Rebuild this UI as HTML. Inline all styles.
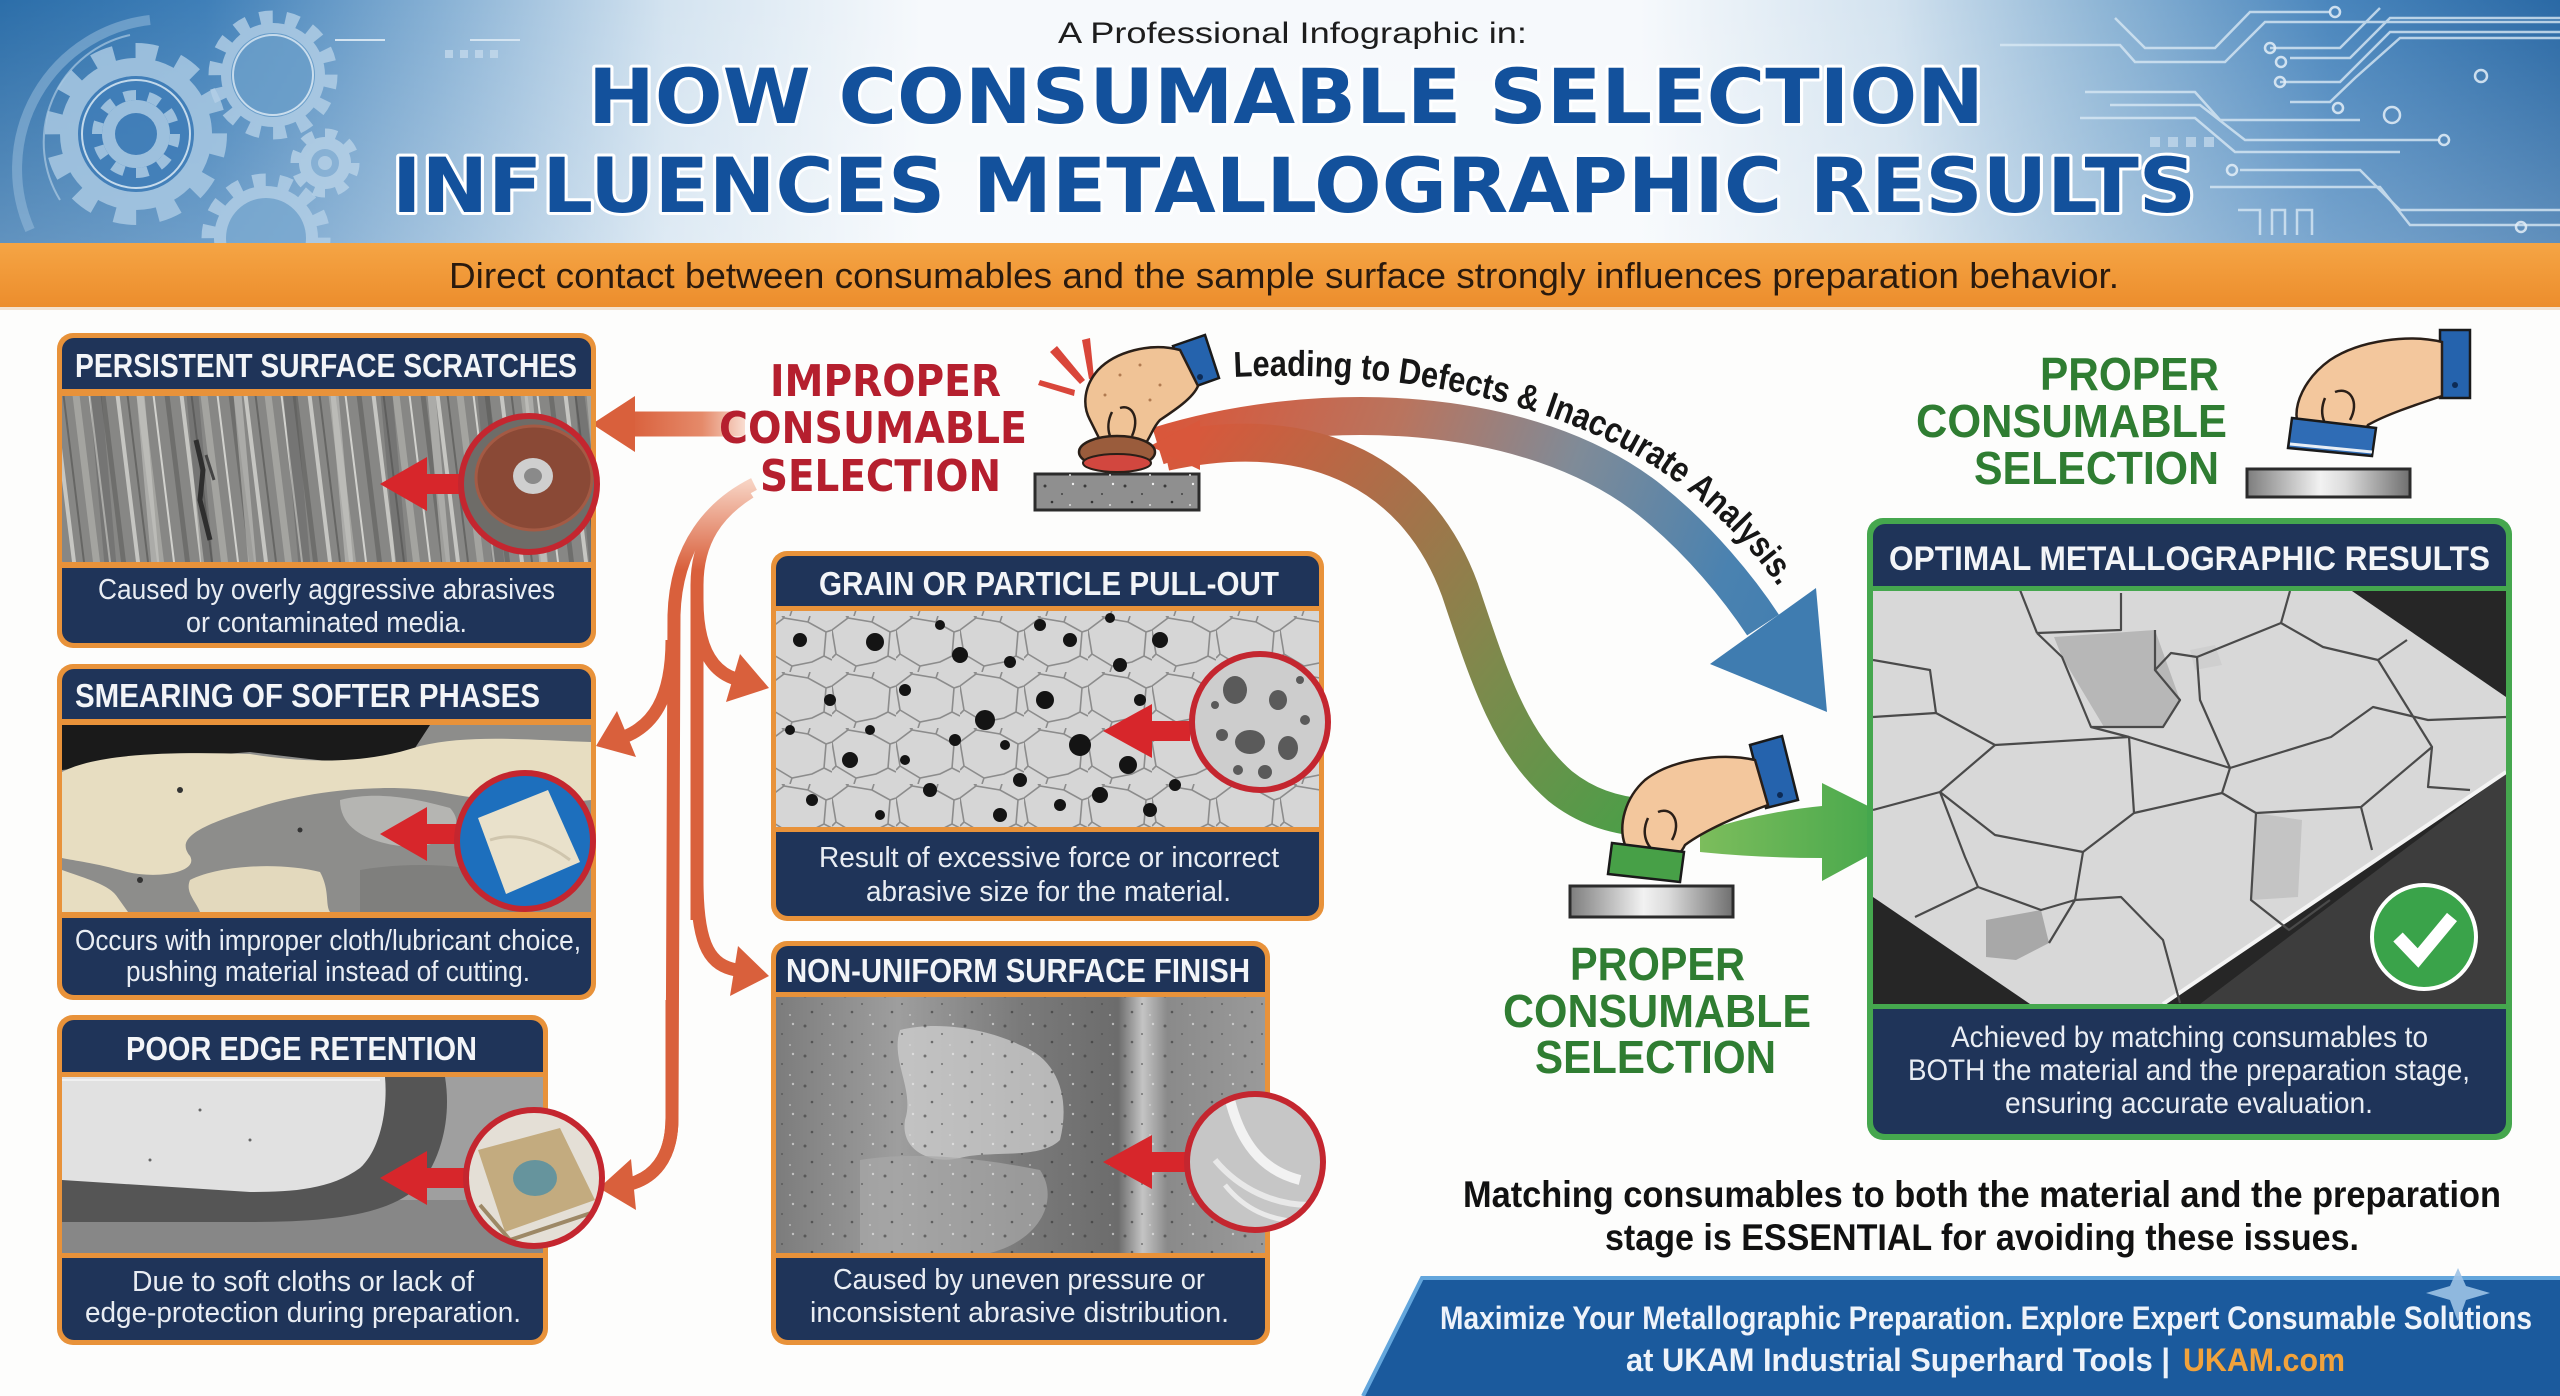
<!DOCTYPE html>
<html><head><meta charset="utf-8">
<style>
html,body{margin:0;padding:0;background:#fdfdfc;}
svg{display:block}
.c{font-family:"Liberation Sans Narrow","Liberation Sans",sans-serif;}
.h{font-family:"DejaVu Sans","Liberation Sans",sans-serif;font-weight:bold;}
</style></head><body>
<svg xmlns="http://www.w3.org/2000/svg" width="2560" height="1396" viewBox="0 0 2560 1396">
<defs>
  <linearGradient id="hdr" x1="0" y1="0" x2="1" y2="0">
    <stop offset="0" stop-color="#2c6ea9"/><stop offset="0.08" stop-color="#3f7fb8"/>
    <stop offset="0.17" stop-color="#86b0d4"/><stop offset="0.26" stop-color="#d3e3f0"/>
    <stop offset="0.36" stop-color="#f6f9fc"/><stop offset="0.64" stop-color="#f6f9fc"/>
    <stop offset="0.74" stop-color="#d2e2ef"/><stop offset="0.82" stop-color="#8fb6d6"/>
    <stop offset="0.91" stop-color="#4a86bd"/><stop offset="1" stop-color="#2a69a5"/>
  </linearGradient>
  <linearGradient id="hdrv" x1="0" y1="0" x2="0" y2="1">
    <stop offset="0" stop-color="#ffffff" stop-opacity="0"/><stop offset="1" stop-color="#ffffff" stop-opacity="0.25"/>
  </linearGradient>
  <linearGradient id="org" x1="0" y1="0" x2="0" y2="1">
    <stop offset="0" stop-color="#f5a545"/><stop offset="1" stop-color="#ec8d2c"/>
  </linearGradient>
  <linearGradient id="silver" x1="0" y1="0" x2="1" y2="0">
    <stop offset="0" stop-color="#7d7d7d"/><stop offset="0.45" stop-color="#f2f2f2"/><stop offset="0.6" stop-color="#dcdcdc"/><stop offset="1" stop-color="#6f6f6f"/>
  </linearGradient>
  <linearGradient id="upArr" gradientUnits="userSpaceOnUse" x1="1160" y1="440" x2="1830" y2="700">
    <stop offset="0" stop-color="#d9573b"/><stop offset="0.3" stop-color="#b9745e"/>
    <stop offset="0.55" stop-color="#7f8b98"/><stop offset="0.8" stop-color="#4a82b0"/><stop offset="1" stop-color="#3d7bb0"/>
  </linearGradient>
  <linearGradient id="loArr" gradientUnits="userSpaceOnUse" x1="1170" y1="450" x2="1640" y2="820">
    <stop offset="0" stop-color="#d9573b"/><stop offset="0.35" stop-color="#a8704a"/>
    <stop offset="0.65" stop-color="#7d8a4c"/><stop offset="1" stop-color="#4c9e48"/>
  </linearGradient>
  <linearGradient id="grnArr" gradientUnits="userSpaceOnUse" x1="1700" y1="0" x2="1916" y2="0">
    <stop offset="0" stop-color="#7cbd5c"/><stop offset="1" stop-color="#3ea449"/>
  </linearGradient>
  <linearGradient id="c1arr" gradientUnits="userSpaceOnUse" x1="630" y1="0" x2="750" y2="0">
    <stop offset="0" stop-color="#d9603c"/><stop offset="0.6" stop-color="#e58a6a"/><stop offset="1" stop-color="#fbe6dc"/>
  </linearGradient>
  <linearGradient id="trunk" gradientUnits="userSpaceOnUse" x1="0" y1="482" x2="0" y2="570">
    <stop offset="0" stop-color="#f7d2c2"/><stop offset="1" stop-color="#d9603c"/>
  </linearGradient>
  <linearGradient id="c5bg" x1="0" y1="0" x2="1" y2="0">
    <stop offset="0" stop-color="#7c7c7c"/><stop offset="0.25" stop-color="#9e9e9e"/>
    <stop offset="0.5" stop-color="#7a7a7a"/><stop offset="0.7" stop-color="#6c6c6c"/>
    <stop offset="0.75" stop-color="#c4c4c4"/><stop offset="0.8" stop-color="#8a8a8a"/><stop offset="1" stop-color="#9a9a9a"/>
  </linearGradient>
  <pattern id="scr" width="64" height="170" patternUnits="userSpaceOnUse" patternTransform="skewX(7)">
    <rect width="64" height="170" fill="#878785"/>
    <rect x="3" width="4" height="170" fill="#c6c6c2"/>
    <rect x="14" width="2" height="170" fill="#666664"/>
    <rect x="24" width="7" height="170" fill="#a4a4a0"/>
    <rect x="40" width="2" height="170" fill="#d2d2ce"/>
    <rect x="52" width="5" height="170" fill="#6e6e6c"/>
  </pattern>
  <pattern id="scr2" width="97" height="170" patternUnits="userSpaceOnUse" patternTransform="skewX(5)">
    <rect x="5" width="8" height="170" fill="#d8d8d4" opacity="0.45"/>
    <rect x="55" width="12" height="170" fill="#4e4e4c" opacity="0.3"/>
  </pattern>
  <pattern id="cells" width="64" height="56" patternUnits="userSpaceOnUse">
    <rect width="64" height="56" fill="#d6d6d6"/>
    <path d="M0,14 L16,2 L40,6 L58,16 L64,14 M16,2 L16,0 M58,16 L56,40 L64,44 M0,14 L4,38 L0,42 M4,38 L24,50 L44,46 L56,40 M24,50 L22,56 M40,6 L42,0 M16,2 L14,0" fill="none" stroke="#8c8c8c" stroke-width="1.6"/>
  </pattern>
  <pattern id="spk" width="40" height="30" patternUnits="userSpaceOnUse">
    <circle cx="5" cy="6" r="1.5" fill="#3a3a3a"/><circle cx="22" cy="14" r="1" fill="#444"/>
    <circle cx="33" cy="4" r="1.2" fill="#eee"/><circle cx="12" cy="22" r="1.3" fill="#333"/>
    <circle cx="30" cy="25" r="1" fill="#ddd"/>
  </pattern>
  <clipPath id="hclip"><rect x="0" y="0" width="2560" height="243"/></clipPath>
  <clipPath id="i1"><rect x="62" y="396" width="529" height="166"/></clipPath>
  <clipPath id="i2"><rect x="62" y="725" width="529" height="187"/></clipPath>
  <clipPath id="i3"><rect x="62" y="1077" width="481" height="176"/></clipPath>
  <clipPath id="i4"><rect x="776" y="611" width="543" height="216"/></clipPath>
  <clipPath id="i5"><rect x="776" y="997" width="489" height="256"/></clipPath>
  <clipPath id="i6"><rect x="1873" y="591" width="633" height="413"/></clipPath>
  <clipPath id="cc1"><circle cx="529" cy="484" r="68"/></clipPath>
  <clipPath id="cc2"><circle cx="525" cy="841" r="68"/></clipPath>
  <clipPath id="cc3"><circle cx="534" cy="1178" r="68"/></clipPath>
  <clipPath id="cc4"><circle cx="1260" cy="722" r="68"/></clipPath>
  <clipPath id="cc5"><circle cx="1255" cy="1162" r="68"/></clipPath>
  <path id="lp" d="M1234,377 C1420,368 1585,410 1683,487 C1722,518 1756,553 1782,592"/>
</defs>

<rect width="2560" height="1396" fill="#fdfdfc"/>

<!-- HEADER -->
<g clip-path="url(#hclip)">
  <rect x="0" y="0" width="2560" height="243" fill="url(#hdr)"/>
  <rect x="0" y="0" width="2560" height="243" fill="url(#hdrv)"/>
  <path d="M30,230 A150,150 0 0 1 150,20" fill="none" stroke="#9cc0de" stroke-width="10" opacity="0.5"/>
  <path d="M60,200 A110,110 0 0 1 130,35" fill="none" stroke="#bcd6ea" stroke-width="2" opacity="0.6"/>
  <g opacity="0.85">
    <circle cx="136" cy="134" r="76" fill="#a9c9e3"/>
    <circle cx="136" cy="134" r="83" fill="none" stroke="#a9c9e3" stroke-width="16" pathLength="100" stroke-dasharray="4.1667 4.1667"/>
    <circle cx="136" cy="134" r="58" fill="#3f7db8"/>
    <circle cx="136" cy="134" r="54" fill="none" stroke="#d8e8f4" stroke-width="2"/>
    <circle cx="136" cy="134" r="34" fill="#a9c9e3"/>
    <circle cx="136" cy="134" r="39" fill="none" stroke="#a9c9e3" stroke-width="10" pathLength="100" stroke-dasharray="5 5"/>
    <circle cx="136" cy="134" r="21" fill="#3f7db8"/>
  </g>
  <g opacity="0.8">
    <circle cx="273" cy="75" r="52" fill="#b4d0e7"/>
    <circle cx="273" cy="75" r="58" fill="none" stroke="#b4d0e7" stroke-width="13" pathLength="100" stroke-dasharray="3.57 3.57"/>
    <circle cx="273" cy="75" r="42" fill="#6b9fca"/>
    <circle cx="273" cy="75" r="40" fill="none" stroke="#e2eef7" stroke-width="2"/>
  </g>
  <g opacity="0.8">
    <circle cx="325" cy="163" r="26" fill="#b9d3e8"/>
    <circle cx="325" cy="163" r="30" fill="none" stroke="#b9d3e8" stroke-width="9" pathLength="100" stroke-dasharray="6.25 6.25"/>
    <circle cx="325" cy="163" r="14" fill="#8ab3d6"/>
    <circle cx="325" cy="163" r="7" fill="#b9d3e8"/>
  </g>
  <g opacity="0.8">
    <circle cx="266" cy="238" r="52" fill="#b4d0e7"/>
    <circle cx="266" cy="238" r="58" fill="none" stroke="#b4d0e7" stroke-width="13" pathLength="100" stroke-dasharray="3.57 3.57"/>
    <circle cx="266" cy="238" r="40" fill="#7aa9d0"/>
  </g>
  <path d="M335,40 L385,40 M470,40 L520,40" stroke="#d4e4f1" stroke-width="2"/>
  <g fill="none" stroke="#d8e8f4" stroke-width="2.5" opacity="0.8">
    <path d="M2115,18 L2145,48 L2215,48 L2250,12 L2330,12"/>
    <path d="M2000,45 L2120,45 L2135,62 L2225,62 L2265,22 L2560,22"/>
    <path d="M2270,48 L2340,48 L2380,8"/>
    <path d="M2290,58 L2350,58 L2390,18 L2560,18"/>
    <path d="M2280,82 L2340,82 L2390,32 L2560,32"/>
    <path d="M2290,102 L2330,102 L2355,78 L2400,38 L2560,38"/>
    <path d="M2085,92 L2195,92 L2220,120 L2360,120"/>
    <path d="M2110,105 L2200,105 L2245,140 L2440,140"/>
    <path d="M2080,118 L2195,118 L2235,152 L2400,152"/>
    <path d="M2240,170 L2360,170 L2400,210 L2560,210"/>
    <path d="M2210,187 L2380,187 L2410,225 L2560,225"/>
    <path d="M2238,210 L2260,210 L2260,235 M2272,235 L2272,210 L2285,210 L2285,235 M2297,235 L2297,210 L2312,210 L2312,235"/>
  </g>
  <g fill="none" stroke="#e4eff8" stroke-width="2.5" opacity="0.85">
    <circle cx="2335" cy="12" r="5"/><circle cx="2270" cy="48" r="5"/><circle cx="2280" cy="82" r="5"/>
    <circle cx="2281" cy="62" r="5"/><circle cx="2444" cy="140" r="5"/><circle cx="2232" cy="170" r="5"/>
    <circle cx="2392" cy="115" r="8"/><circle cx="2338" cy="108" r="5"/><circle cx="2481" cy="76" r="6"/>
    <circle cx="2521" cy="227" r="5"/>
  </g>
  <g fill="#c9ddee" opacity="0.7">
    <rect x="2150" y="137" width="10" height="10"/><rect x="2168" y="137" width="10" height="10"/><rect x="2186" y="137" width="10" height="10"/><rect x="2204" y="137" width="10" height="10"/>
    <rect x="445" y="50" width="8" height="8"/><rect x="460" y="50" width="8" height="8"/><rect x="475" y="50" width="8" height="8"/><rect x="490" y="50" width="8" height="8"/>
  </g>
</g>

<text class="c" x="1058" y="43" font-size="30" textLength="469" lengthAdjust="spacingAndGlyphs" fill="#1d1d1d">A Professional Infographic in:</text>
<text class="h" x="588" y="123" font-size="76" textLength="1396" lengthAdjust="spacingAndGlyphs" fill="#13519c" stroke="#ffffff" stroke-width="6" stroke-linejoin="round" paint-order="stroke">HOW CONSUMABLE SELECTION</text>
<text class="h" x="392" y="212" font-size="76" textLength="1804" lengthAdjust="spacingAndGlyphs" fill="#13519c" stroke="#ffffff" stroke-width="6" stroke-linejoin="round" paint-order="stroke">INFLUENCES METALLOGRAPHIC RESULTS</text>

<rect x="0" y="243" width="2560" height="64" fill="url(#org)"/>
<rect x="0" y="307" width="2560" height="3" fill="#f3e2cf"/>
<text class="c" x="449" y="288" font-size="36" textLength="1670" lengthAdjust="spacingAndGlyphs" fill="#2a1a0e">Direct contact between consumables and the sample surface strongly influences preparation behavior.</text>

<!-- ORANGE TREE ARROWS -->
<path d="M745,424 L630,424" stroke="url(#c1arr)" stroke-width="25" fill="none"/>
<polygon points="592,424 635,396 635,452" fill="#d9603c"/>
<path d="M754,484 C712,505 676,545 674,615 L672,1118 C672,1160 652,1178 630,1184" fill="none" stroke="url(#trunk)" stroke-width="13"/>
<path d="M672,1000 L672,1118 C672,1160 652,1178 630,1184" fill="none" stroke="#d9603c" stroke-width="13"/>
<polygon points="599,1188 631,1159 636,1210" fill="#d9603c"/>
<path d="M672,640 C672,700 652,726 624,737" fill="none" stroke="#d9603c" stroke-width="13"/>
<polygon points="596,746 617,711 636,757" fill="#d9603c"/>
<path d="M750,492 C718,512 697,540 697,585 L697,920" fill="none" stroke="url(#trunk)" stroke-width="13"/>
<path d="M697,600 C697,650 713,672 736,679" fill="none" stroke="#d9603c" stroke-width="13"/>
<polygon points="769,688 740,654 726,702" fill="#d9603c"/>
<path d="M697,880 C697,950 712,965 736,970" fill="none" stroke="#d9603c" stroke-width="13"/>
<polygon points="769,976 738,946 730,996" fill="#d9603c"/>

<!-- CARD 1 -->
<rect x="57" y="333" width="539" height="315" rx="16" fill="#e8923a"/>
<rect x="62" y="338" width="529" height="305" rx="12" fill="#1f3459"/>
<rect x="62" y="389" width="529" height="7" fill="#e8923a"/>
<g clip-path="url(#i1)">
  <rect x="40" y="396" width="580" height="166" fill="url(#scr)"/>
  <rect x="40" y="396" width="580" height="166" fill="url(#scr2)"/>
  <path d="M196,440 L203,470 L200,500 L210,540" stroke="#2e2e2e" stroke-width="5" fill="none"/>
  <path d="M206,455 L214,480" stroke="#444" stroke-width="3"/>
</g>
<rect x="62" y="562" width="529" height="6" fill="#e8923a"/>
<text class="c" x="75" y="377" font-size="33" font-weight="bold" textLength="502" lengthAdjust="spacingAndGlyphs" fill="#f3f5f8">PERSISTENT SURFACE SCRATCHES</text>
<text class="c" x="98" y="599" font-size="29" textLength="457" lengthAdjust="spacingAndGlyphs" fill="#e9edf3">Caused by overly aggressive abrasives</text>
<text class="c" x="186" y="632" font-size="29" textLength="281" lengthAdjust="spacingAndGlyphs" fill="#e9edf3">or contaminated media.</text>
<polygon points="380,484 427,457 427,474 466,474 466,494 427,494 427,511" fill="#d7262b"/>
<g clip-path="url(#cc1)">
  <rect x="455" y="410" width="150" height="150" fill="#6e6c68"/>
  <ellipse cx="534" cy="478" rx="58" ry="52" fill="#8a4936"/>
  <ellipse cx="534" cy="478" rx="58" ry="52" fill="none" stroke="#a45a44" stroke-width="3"/>
  <ellipse cx="533" cy="476" rx="20" ry="18" fill="#cfcfcf"/>
  <ellipse cx="533" cy="476" rx="9" ry="8" fill="#8a8a8a"/>
</g>
<circle cx="529" cy="484" r="68" fill="none" stroke="#c4262f" stroke-width="6"/>

<!-- CARD 2 -->
<rect x="57" y="664" width="539" height="336" rx="16" fill="#e8923a"/>
<rect x="62" y="669" width="529" height="326" rx="12" fill="#1f3459"/>
<rect x="62" y="719" width="529" height="6" fill="#e8923a"/>
<g clip-path="url(#i2)">
  <rect x="62" y="725" width="529" height="187" fill="#8d8d8b"/>
  <polygon points="62,725 430,725 415,748 360,765 250,752 150,760 62,770" fill="#1a1a1a"/>
  <path d="M62,772 C100,752 180,752 250,754 C300,762 360,766 420,746 C470,734 530,740 591,742 L591,800 C540,806 480,800 440,792 C380,782 300,792 250,810 C200,826 175,838 190,856 C200,874 150,880 120,870 C90,862 70,860 62,858 Z" fill="#e7ddc1"/>
  <path d="M62,870 C90,880 110,885 118,898 L128,912 L62,912 Z" fill="#e7ddc1"/>
  <path d="M190,880 C220,865 280,862 320,872 C330,890 325,905 330,912 L200,912 C195,900 185,892 190,880 Z" fill="#e3d9bd"/>
  <path d="M340,800 C380,790 420,800 450,808 C470,830 440,850 400,846 C370,842 340,830 340,800 Z" fill="#b5b5b2"/>
  <path d="M360,870 C420,860 480,866 520,880 L520,912 L360,912 Z" fill="#7f7f7d"/>
  <circle cx="180" cy="790" r="3" fill="#333"/><circle cx="300" cy="830" r="2.5" fill="#333"/><circle cx="140" cy="880" r="3" fill="#333"/>
</g>
<rect x="62" y="912" width="529" height="6" fill="#e8923a"/>
<text class="c" x="75" y="707" font-size="33" font-weight="bold" textLength="465" lengthAdjust="spacingAndGlyphs" fill="#f3f5f8">SMEARING OF SOFTER PHASES</text>
<text class="c" x="75" y="950" font-size="29" textLength="506" lengthAdjust="spacingAndGlyphs" fill="#e9edf3">Occurs with improper cloth/lubricant choice,</text>
<text class="c" x="126" y="981" font-size="29" textLength="404" lengthAdjust="spacingAndGlyphs" fill="#e9edf3">pushing material instead of cutting.</text>
<polygon points="380,834 427,807 427,824 466,824 466,844 427,844 427,861" fill="#d7262b"/>
<g clip-path="url(#cc2)">
  <rect x="450" y="770" width="150" height="150" fill="#1d6fbd"/>
  <polygon points="478,818 548,790 580,862 506,894" fill="#e9e1cb"/>
  <path d="M490,840 C520,830 550,845 570,860" stroke="#cfc5ad" stroke-width="3" fill="none"/>
</g>
<circle cx="525" cy="841" r="68" fill="none" stroke="#c4262f" stroke-width="6"/>

<!-- CARD 3 -->
<rect x="57" y="1015" width="491" height="330" rx="16" fill="#e8923a"/>
<rect x="62" y="1020" width="481" height="320" rx="12" fill="#1f3459"/>
<rect x="62" y="1072" width="481" height="5" fill="#e8923a"/>
<g clip-path="url(#i3)">
  <rect x="62" y="1077" width="481" height="176" fill="#9f9f9f"/>
  <rect x="62" y="1200" width="481" height="53" fill="#878787"/>
  <path d="M62,1077 L445,1077 C452,1120 440,1160 420,1185 C390,1215 330,1222 250,1222 L62,1222 Z" fill="#555555"/>
  <path d="M62,1077 L385,1077 C388,1110 380,1150 360,1168 C330,1190 290,1192 250,1192 L62,1180 Z" fill="#e1e1e1"/>
  <path d="M62,1080 L380,1080" stroke="#f0f0f0" stroke-width="2"/>
  <circle cx="200" cy="1110" r="1.5" fill="#666"/><circle cx="250" cy="1140" r="1.5" fill="#666"/><circle cx="150" cy="1160" r="1.5" fill="#666"/>
</g>
<rect x="62" y="1253" width="481" height="5" fill="#e8923a"/>
<text class="c" x="126" y="1060" font-size="33" font-weight="bold" textLength="351" lengthAdjust="spacingAndGlyphs" fill="#f3f5f8">POOR EDGE RETENTION</text>
<text class="c" x="132" y="1291" font-size="29" textLength="342" lengthAdjust="spacingAndGlyphs" fill="#e9edf3">Due to soft cloths or lack of</text>
<text class="c" x="85" y="1322" font-size="29" textLength="436" lengthAdjust="spacingAndGlyphs" fill="#e9edf3">edge-protection during preparation.</text>
<polygon points="380,1178 427,1151 427,1168 466,1168 466,1188 427,1188 427,1205" fill="#d7262b"/>
<g clip-path="url(#cc3)">
  <rect x="460" y="1105" width="150" height="150" fill="#e4dfd6"/>
  <polygon points="478,1150 560,1128 595,1200 505,1232" fill="#c3ab7f"/>
  <ellipse cx="535" cy="1178" rx="22" ry="18" fill="#4f8ea5" opacity="0.8"/>
  <path d="M480,1205 L510,1240 L600,1210" stroke="#9d8866" stroke-width="4" fill="none"/>
</g>
<circle cx="534" cy="1178" r="68" fill="none" stroke="#c4262f" stroke-width="6"/>

<!-- CARD 4 -->
<rect x="771" y="551" width="553" height="370" rx="16" fill="#e8923a"/>
<rect x="776" y="556" width="543" height="360" rx="12" fill="#1f3459"/>
<rect x="776" y="606" width="543" height="5" fill="#e8923a"/>
<g clip-path="url(#i4)">
  <rect x="776" y="611" width="543" height="216" fill="url(#cells)"/>
  <g fill="#141414">
    <circle cx="800" cy="640" r="7"/><circle cx="830" cy="700" r="6"/><circle cx="850" cy="760" r="8"/>
    <circle cx="875" cy="642" r="9"/><circle cx="905" cy="690" r="6"/><circle cx="930" cy="790" r="7"/>
    <circle cx="960" cy="655" r="8"/><circle cx="985" cy="720" r="10"/><circle cx="1010" cy="662" r="6"/>
    <circle cx="1020" cy="780" r="7"/><circle cx="1045" cy="700" r="9"/><circle cx="1070" cy="640" r="7"/>
    <circle cx="1080" cy="745" r="11"/><circle cx="1100" cy="795" r="8"/><circle cx="1120" cy="665" r="7"/>
    <circle cx="1140" cy="700" r="6"/><circle cx="1160" cy="640" r="8"/><circle cx="1150" cy="810" r="7"/>
    <circle cx="812" cy="800" r="6"/><circle cx="880" cy="815" r="5"/><circle cx="955" cy="740" r="6"/>
    <circle cx="1000" cy="815" r="7"/><circle cx="1060" cy="805" r="6"/><circle cx="1110" cy="618" r="5"/>
    <circle cx="790" cy="730" r="5"/><circle cx="940" cy="625" r="5"/><circle cx="1040" cy="625" r="6"/>
    <circle cx="1128" cy="765" r="9"/><circle cx="1175" cy="785" r="6"/><circle cx="870" cy="730" r="5"/>
    <circle cx="905" cy="760" r="5"/><circle cx="1005" cy="745" r="5"/>
  </g>
</g>
<rect x="776" y="827" width="543" height="5" fill="#e8923a"/>
<text class="c" x="819" y="595" font-size="33" font-weight="bold" textLength="460" lengthAdjust="spacingAndGlyphs" fill="#f3f5f8">GRAIN OR PARTICLE PULL-OUT</text>
<text class="c" x="819" y="867" font-size="29" textLength="460" lengthAdjust="spacingAndGlyphs" fill="#e9edf3">Result of excessive force or incorrect</text>
<text class="c" x="866" y="901" font-size="29" textLength="365" lengthAdjust="spacingAndGlyphs" fill="#e9edf3">abrasive size for the material.</text>
<polygon points="1103,731 1152,704 1152,721 1190,721 1190,741 1152,741 1152,758" fill="#d7262b"/>
<g clip-path="url(#cc4)">
  <rect x="1185" y="650" width="150" height="150" fill="#cdcdcd"/>
  <g fill="#5a5a5a">
    <ellipse cx="1235" cy="690" rx="12" ry="14"/><ellipse cx="1278" cy="700" rx="9" ry="10"/>
    <ellipse cx="1250" cy="742" rx="15" ry="12"/><ellipse cx="1288" cy="748" rx="10" ry="12"/>
    <circle cx="1222" cy="735" r="6"/><circle cx="1305" cy="720" r="5"/><circle cx="1265" cy="772" r="7"/>
    <circle cx="1238" cy="770" r="5"/><circle cx="1300" cy="680" r="4"/><circle cx="1215" cy="705" r="4"/>
  </g>
</g>
<circle cx="1260" cy="722" r="68" fill="none" stroke="#c4262f" stroke-width="6"/>

<!-- CARD 5 -->
<rect x="771" y="941" width="499" height="404" rx="16" fill="#e8923a"/>
<rect x="776" y="946" width="489" height="394" rx="12" fill="#1f3459"/>
<rect x="776" y="992" width="489" height="5" fill="#e8923a"/>
<g clip-path="url(#i5)">
  <rect x="776" y="997" width="489" height="256" fill="url(#c5bg)"/>
  <path d="M900,1030 C940,1020 990,1030 1020,1045 C1060,1060 1070,1100 1060,1140 C1040,1160 990,1150 960,1158 C930,1165 900,1150 905,1120 C915,1090 890,1060 900,1030 Z" fill="#cfcfcf" opacity="0.75"/>
  <path d="M860,1160 C920,1150 990,1160 1040,1170 C1060,1200 1040,1240 990,1253 L860,1253 Z" fill="#a8a8a8" opacity="0.7"/>
  <rect x="776" y="997" width="489" height="256" fill="url(#spk)" opacity="0.6"/>
</g>
<rect x="776" y="1253" width="489" height="5" fill="#e8923a"/>
<text class="c" x="786" y="982" font-size="33" font-weight="bold" textLength="464" lengthAdjust="spacingAndGlyphs" fill="#f3f5f8">NON-UNIFORM SURFACE FINISH</text>
<text class="c" x="833" y="1289" font-size="29" textLength="372" lengthAdjust="spacingAndGlyphs" fill="#e9edf3">Caused by uneven pressure or</text>
<text class="c" x="810" y="1322" font-size="29" textLength="419" lengthAdjust="spacingAndGlyphs" fill="#e9edf3">inconsistent abrasive distribution.</text>
<polygon points="1103,1162 1152,1135 1152,1152 1190,1152 1190,1172 1152,1172 1152,1189" fill="#d7262b"/>
<g clip-path="url(#cc5)">
  <rect x="1180" y="1090" width="150" height="150" fill="#c6c6c6"/>
  <path d="M1230,1100 C1240,1140 1260,1170 1300,1180" stroke="#f2f2f2" stroke-width="10" fill="none"/>
  <path d="M1215,1160 C1240,1190 1275,1205 1310,1205" stroke="#e8e8e8" stroke-width="6" fill="none"/>
  <path d="M1225,1185 C1245,1210 1270,1220 1300,1222" stroke="#eaeaea" stroke-width="5" fill="none"/>
</g>
<circle cx="1255" cy="1162" r="68" fill="none" stroke="#c4262f" stroke-width="6"/>

<!-- IMPROPER label and hand -->
<text class="h" x="770" y="396" font-size="44" textLength="231" lengthAdjust="spacingAndGlyphs" fill="#b51f2e">IMPROPER</text>
<text class="h" x="719" y="443" font-size="44" textLength="308" lengthAdjust="spacingAndGlyphs" fill="#b51f2e">CONSUMABLE</text>
<text class="h" x="760" y="491" font-size="44" textLength="241" lengthAdjust="spacingAndGlyphs" fill="#b51f2e">SELECTION</text>

<g fill="#d9463a">
  <polygon points="1082,340 1090,338 1094,378 1089,379"/>
  <polygon points="1050,352 1057,346 1085,380 1080,384"/>
  <polygon points="1038,385 1040,380 1075,390 1074,396"/>
</g>

<path d="M1158,446 C1320,396 1530,405 1650,500 C1700,540 1740,590 1763,625" fill="none" stroke="url(#upArr)" stroke-width="38"/>
<polygon points="1827,712 1710,664 1816,588" fill="#3f7cb0"/>
<path d="M1165,452 C1320,418 1420,480 1460,590 C1490,680 1510,742 1560,786 C1585,806 1612,815 1645,818" fill="none" stroke="url(#loArr)" stroke-width="38"/>
<polygon points="1150,446 1200,420 1200,470" fill="#d9573b"/>

<path d="M1700,832 Q1760,812 1822,806 L1822,783 L1916,830 L1822,881 L1822,858 Q1760,858 1700,852 Z" fill="url(#grnArr)"/>

<text class="c" font-size="36" font-weight="bold" fill="#161616"><textPath href="#lp" textLength="610" lengthAdjust="spacingAndGlyphs">Leading to Defects &amp; Inaccurate Analysis.</textPath></text>

<rect x="1035" y="474" width="164" height="36" fill="#8f8f8f" stroke="#2b2b2b" stroke-width="3"/>
<rect x="1035" y="474" width="164" height="36" fill="url(#spk)"/>
<polygon points="1173,346 1205,335 1219,378 1188,389" fill="#2563ad" stroke="#1a1a1a" stroke-width="2.5"/>
<circle cx="1200" cy="377" r="3" fill="#0d2b55"/>
<path d="M1180,350 C1150,342 1115,352 1098,370 C1084,386 1082,405 1090,420 L1100,440 C1108,455 1128,458 1142,448 C1150,440 1152,428 1160,420 C1175,410 1193,398 1198,386 Z" fill="#f0c396" stroke="#2a1f18" stroke-width="2.5"/>
<path d="M1112,412 C1104,428 1110,446 1124,448 M1120,408 C1132,404 1140,418 1132,436" fill="none" stroke="#2a1f18" stroke-width="2.5"/>
<g fill="#b07a50"><circle cx="1120" cy="375" r="1.5"/><circle cx="1140" cy="365" r="1.5"/><circle cx="1160" cy="385" r="1.5"/><circle cx="1105" cy="395" r="1.5"/><circle cx="1150" cy="400" r="1.5"/></g>
<ellipse cx="1117" cy="452" rx="38" ry="16" fill="#9a5c3c" stroke="#2a1f18" stroke-width="2.5"/>
<ellipse cx="1117" cy="463" rx="34" ry="9" fill="#d2473f" stroke="#2a1f18" stroke-width="2"/>

<!-- PROPER (top right) -->
<text class="c" x="2040" y="390" font-size="46" font-weight="bold" textLength="179" lengthAdjust="spacingAndGlyphs" fill="#2f7d32">PROPER</text>
<text class="c" x="1916" y="437" font-size="46" font-weight="bold" textLength="311" lengthAdjust="spacingAndGlyphs" fill="#2f7d32">CONSUMABLE</text>
<text class="c" x="1974" y="484" font-size="46" font-weight="bold" textLength="245" lengthAdjust="spacingAndGlyphs" fill="#2f7d32">SELECTION</text>
<rect x="2247" y="469" width="163" height="28" fill="url(#silver)" stroke="#2b2b2b" stroke-width="3"/>
<rect x="2440" y="330" width="30" height="68" fill="#2563ad" stroke="#1a1a1a" stroke-width="2.5"/>
<circle cx="2455" cy="385" r="3" fill="#0d2b55"/>
<path d="M2442,342 C2410,334 2360,340 2330,360 C2305,378 2292,405 2298,425 L2320,440 C2340,448 2360,440 2368,425 C2385,415 2415,405 2442,396 Z" fill="#f3c79d" stroke="#2a1f18" stroke-width="2.5"/>
<path d="M2325,398 C2318,415 2325,432 2340,434 M2335,392 C2350,386 2360,402 2350,420" fill="none" stroke="#2a1f18" stroke-width="2.5"/>
<polygon points="2292,418 2376,428 2372,456 2288,448" fill="#2f6cb5" stroke="#1a1a1a" stroke-width="2.5"/>
<path d="M2290,444 L2372,452" stroke="#e8eef5" stroke-width="3"/>

<!-- PROPER (middle) -->
<text class="c" x="1570" y="980" font-size="46" font-weight="bold" textLength="175" lengthAdjust="spacingAndGlyphs" fill="#2f7d32">PROPER</text>
<text class="c" x="1503" y="1027" font-size="46" font-weight="bold" textLength="308" lengthAdjust="spacingAndGlyphs" fill="#2f7d32">CONSUMABLE</text>
<text class="c" x="1535" y="1073" font-size="46" font-weight="bold" textLength="241" lengthAdjust="spacingAndGlyphs" fill="#2f7d32">SELECTION</text>
<rect x="1570" y="886" width="163" height="31" fill="url(#silver)" stroke="#2b2b2b" stroke-width="3"/>
<polygon points="1750,745 1782,736 1798,800 1766,808" fill="#2563ad" stroke="#1a1a1a" stroke-width="2.5"/>
<circle cx="1780" cy="795" r="3" fill="#0d2b55"/>
<path d="M1755,760 C1720,752 1670,760 1645,780 C1625,798 1618,825 1625,845 L1640,860 C1660,868 1678,860 1685,845 C1705,830 1740,815 1768,805 Z" fill="#f3c79d" stroke="#2a1f18" stroke-width="2.5"/>
<path d="M1648,818 C1640,835 1648,852 1662,854 M1658,812 C1672,806 1682,822 1672,840" fill="none" stroke="#2a1f18" stroke-width="2.5"/>
<polygon points="1612,843 1684,852 1680,882 1608,874" fill="#47a047" stroke="#1a1a1a" stroke-width="2.5"/>

<!-- OPTIMAL CARD -->
<rect x="1867" y="518" width="645" height="622" rx="16" fill="#45a74e"/>
<rect x="1873" y="524" width="633" height="610" rx="12" fill="#1f3459"/>
<rect x="1873" y="586" width="633" height="5" fill="#45a74e"/>
<g clip-path="url(#i6)">
  <rect x="1873" y="591" width="633" height="413" fill="#262626"/>
  <polygon points="2470,800 2506,772 2506,1004 2200,1004" fill="#3d3d3d"/>
  <polygon points="1873,591 2352,591 2506,697 2506,772 2163,1004 2030,1004 1873,897" fill="#d8d8d8"/>
  <path d="M2506,772 L2163,1004" stroke="#f4f4f4" stroke-width="4"/>
  <g fill="#b7b7b7">
    <polygon points="2054,637 2155,630 2180,700 2163,727 2104,727 2062,657"/>
    <polygon points="1986,920 2041,910 2049,943 2016,960 1986,957" fill="#a8a8a8"/>
    <polygon points="2256,813 2302,820 2298,897 2251,900" fill="#c4c4c4"/>
    <polygon points="2190,650 2215,645 2222,665 2195,670" fill="#cfcfcf"/>
  </g>
  <g fill="none" stroke="#4a4a4a" stroke-width="2.2" stroke-linejoin="round">
    <path d="M1873,717 L1936,713 L1995,745 L2129,737 L2230,768 L2331,737 L2373,707 L2428,720 L2506,717"/>
    <path d="M2129,737 L2134,813 L2083,852 L1995,835 L1940,792 L1873,810"/>
    <path d="M2134,813 L2222,793 L2230,768"/>
    <path d="M1995,745 L1940,792"/>
    <path d="M1936,713 L1930,670 L1873,660"/>
    <path d="M2037,633 L2062,657 L2091,727 L2129,737"/>
    <path d="M2091,727 L2163,727 L2180,700 L2155,670 L2171,653 L2197,657 L2281,623 L2323,647 L2378,660 L2407,640"/>
    <path d="M2037,633 L2020,590 M2037,633 L2121,630 L2121,593 M2155,670 L2155,630"/>
    <path d="M2083,852 L2075,900 L2049,943 M2075,900 L2121,897 L2163,940 L2180,1003"/>
    <path d="M2222,793 L2256,813 L2251,900 L2289,930 L2330,900"/>
    <path d="M2256,813 L2361,807 L2432,747 L2428,787 L2470,790"/>
    <path d="M2361,807 L2372,850"/>
    <path d="M2378,660 L2432,747"/>
    <path d="M1915,917 L1978,887 L1965,857 L1940,792"/>
    <path d="M1978,887 L2041,910 L2075,900"/>
    <path d="M2281,623 L2290,591 M2197,657 L2200,700 L2230,768"/>
  </g>
</g>
<rect x="1873" y="1004" width="633" height="5" fill="#45a74e"/>
<circle cx="2424" cy="937" r="52" fill="#3aa34a" stroke="#ffffff" stroke-width="4"/>
<path d="M2398,937 L2418,958 L2452,917" fill="none" stroke="#ffffff" stroke-width="13"/>
<text class="c" x="1889" y="570" font-size="34" font-weight="bold" textLength="601" lengthAdjust="spacingAndGlyphs" fill="#f3f5f8">OPTIMAL METALLOGRAPHIC RESULTS</text>
<text class="c" x="1951" y="1047" font-size="30" textLength="477" lengthAdjust="spacingAndGlyphs" fill="#e9edf3">Achieved by matching consumables to</text>
<text class="c" x="1908" y="1080" font-size="30" textLength="562" lengthAdjust="spacingAndGlyphs" fill="#e9edf3">BOTH the material and the preparation stage,</text>
<text class="c" x="2005" y="1113" font-size="30" textLength="368" lengthAdjust="spacingAndGlyphs" fill="#e9edf3">ensuring accurate evaluation.</text>

<!-- STATEMENT -->
<text class="c" x="1463" y="1207" font-size="37" font-weight="bold" textLength="1038" lengthAdjust="spacingAndGlyphs" fill="#111111">Matching consumables to both the material and the preparation</text>
<text class="c" x="1605" y="1250" font-size="37" font-weight="bold" textLength="754" lengthAdjust="spacingAndGlyphs" fill="#111111">stage is ESSENTIAL for avoiding these issues.</text>

<!-- FOOTER BANNER -->
<polygon points="1422,1278 2560,1278 2560,1396 1363,1396" fill="#1b5a9d"/>
<path d="M1363,1396 L1422,1278 L2560,1278" fill="none" stroke="#63a6dc" stroke-width="4"/>
<polygon points="2458,1268 2466,1286 2490,1293 2466,1300 2458,1322 2450,1300 2426,1293 2450,1286" fill="#9cc2e6" opacity="0.9"/>
<text class="c" x="1440" y="1329" font-size="32" font-weight="bold" textLength="1092" lengthAdjust="spacingAndGlyphs" fill="#eef3fa">Maximize Your Metallographic Preparation. Explore Expert Consumable Solutions</text>
<text class="c" x="1626" y="1371" font-size="32" font-weight="bold" textLength="544" lengthAdjust="spacingAndGlyphs" fill="#eef3fa">at UKAM Industrial Superhard Tools |</text>
<text class="c" x="2183" y="1371" font-size="32" font-weight="bold" textLength="162" lengthAdjust="spacingAndGlyphs" fill="#f0a23c">UKAM.com</text>
</svg>
</body></html>
